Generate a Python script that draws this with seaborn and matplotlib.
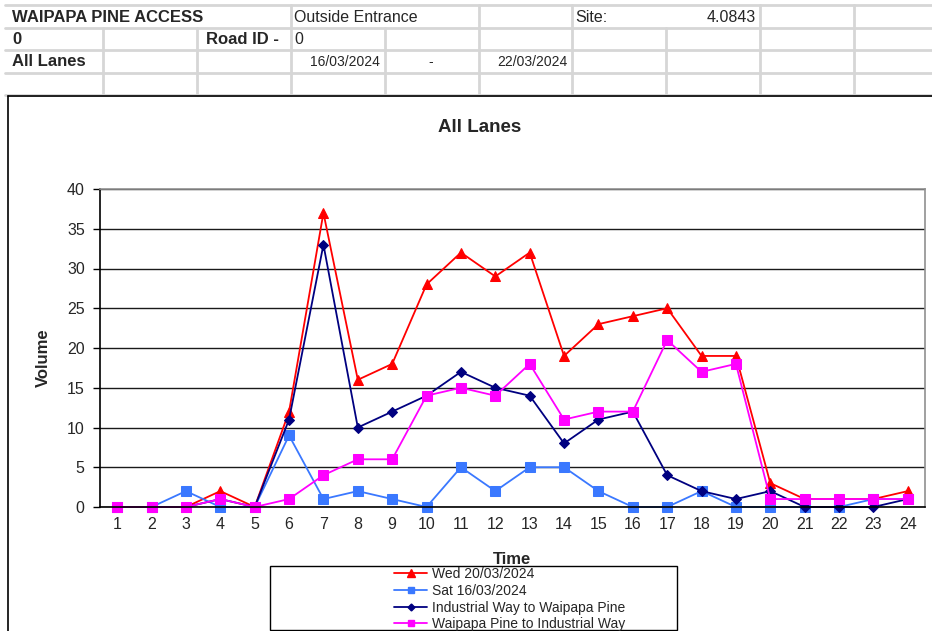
import matplotlib
matplotlib.use("Agg")
import matplotlib.pyplot as plt
from matplotlib.lines import Line2D
from matplotlib.patches import Rectangle
import numpy as np
import pandas as pd
import seaborn as sns

sns.set_style("white")
plt.rcParams["font.family"] = ["Liberation Sans", "DejaVu Sans"]

# Hourly traffic counts
hours = list(range(1, 25))
wed_20 = [0, 0, 0, 2, 0, 12, 37, 16, 18, 28, 32, 29, 32, 19, 23, 24, 25, 19, 19, 3, 1, 1, 1, 2]
sat_16 = [0, 0, 2, 0, 0, 9, 1, 2, 1, 0, 5, 2, 5, 5, 2, 0, 0, 2, 0, 0, 0, 0, 1, 1]
ind_to_wai = [0, 0, 0, 1, 0, 11, 33, 10, 12, 14, 17, 15, 14, 8, 11, 12, 4, 2, 1, 2, 0, 0, 0, 1]
wai_to_ind = [0, 0, 0, 1, 0, 1, 4, 6, 6, 14, 15, 14, 18, 11, 12, 12, 21, 17, 18, 1, 1, 1, 1, 1]

series_names = ["Wed 20/03/2024", "Sat 16/03/2024",
                "Industrial Way to Waipapa Pine", "Waipapa Pine to Industrial Way"]
series_values = [wed_20, sat_16, ind_to_wai, wai_to_ind]
series_colors = ["#FF0000", "#3A78FF", "#000080", "#FF00FF"]
series_markers = ["^", "s", "D", "s"]
series_msizes = [7.5, 7, 5, 7]

yticks = [0, 5, 10, 15, 20, 25, 30, 35, 40]

W, H = 932, 631
fig = plt.figure(figsize=(W / 100, H / 100), dpi=100)


def fx(x):
    return x / W


def fy(y):
    return 1 - y / H


# --- spreadsheet header grid ---
grid_c = "#D6D6D6"
row_lines = [5, 28, 50, 73, 95]
for y in row_lines:
    fig.add_artist(Line2D([fx(5), fx(932)], [fy(y), fy(y)], color=grid_c, lw=2,
                          transform=fig.transFigure))
cols = [103, 197, 291, 385, 479, 572, 666, 760, 854]
row_cols = {
    0: [291, 479, 572, 760, 854],
    1: cols,
    2: cols,
    3: cols,
}
for r, xs in row_cols.items():
    y0, y1 = row_lines[r], row_lines[r + 1]
    for x in xs:
        fig.add_artist(Line2D([fx(x), fx(x)], [fy(y0), fy(y1)], color=grid_c, lw=2,
                              transform=fig.transFigure))


def cell_text(x, y, s, ha="left", bold=False, size=11.5):
    fig.text(fx(x), fy(y), s, ha=ha, va="center", fontsize=size,
             fontweight="bold" if bold else "normal")


cell_text(12, 17, "WAIPAPA PINE ACCESS", bold=True, size=12)
cell_text(294, 17, "Outside Entrance")
cell_text(575, 17, "Site:")
cell_text(756, 17, "4.0843", ha="right")
cell_text(12, 39, "0", bold=True, size=12)
cell_text(279, 39, "Road ID -", ha="right", bold=True, size=12)
cell_text(294, 39, "0")
cell_text(12, 62, "All Lanes", bold=True, size=12)
cell_text(380, 62, "16/03/2024", ha="right", size=10)
cell_text(431, 62, "-", ha="center", size=10)
cell_text(567, 62, "22/03/2024", ha="right", size=10)

# --- chart area border ---
fig.add_artist(Line2D([fx(8), fx(8)], [fy(96), fy(631)], color="black", lw=1.2,
                      transform=fig.transFigure))
fig.add_artist(Line2D([fx(8), fx(932)], [fy(96), fy(96)], color="black", lw=1.2,
                      transform=fig.transFigure))

# --- plot area ---
ax = fig.add_axes([fx(100), fy(507), (925 - 100) / W, (507 - 189) / H])
for name, vals, col, mk, ms in zip(series_names, series_values, series_colors,
                                   series_markers, series_msizes):
    df = pd.DataFrame({"Time": hours, "Volume": vals})
    sns.lineplot(data=df, x="Time", y="Volume", ax=ax, color=col, marker=mk,
                 markersize=ms, markeredgecolor=col, markerfacecolor=col,
                 linewidth=1.3, legend=False, clip_on=False)

ax.set_xlim(0.5, 24.5)
ax.set_ylim(0, 40)
ax.set_yticks(yticks)
ax.set_yticklabels([str(v) for v in yticks], fontsize=11.5)
ax.set_xticks(hours)
ax.set_xticklabels([str(h) for h in hours], fontsize=11.5)
ax.set_xticks(np.arange(0.5, 25, 1), minor=True)
ax.tick_params(axis="x", which="major", length=0, pad=7)
ax.tick_params(axis="x", which="minor", length=5, direction="out", color="black", width=1)
ax.tick_params(axis="y", which="major", length=5, direction="out", color="black",
               width=1, left=True, pad=6)
ax.yaxis.grid(True, color="#1A1A1A", lw=1)
ax.xaxis.grid(False)
ax.set_axisbelow(True)
ax.spines["left"].set_color("black")
ax.spines["bottom"].set_color("black")
ax.spines["top"].set_color("#909090")
ax.spines["right"].set_color("#909090")
for s in ax.spines.values():
    s.set_linewidth(1.2)
ax.set_xlabel("")
ax.set_ylabel("")

fig.text(fx(480), fy(128), "All Lanes", ha="center", va="center", fontsize=13.5,
         fontweight="bold")
fig.text(fx(512), fy(560), "Time", ha="center", va="center", fontsize=12,
         fontweight="bold")
fig.text(fx(43), fy(358), "Volume", ha="center", va="center", fontsize=12,
         fontweight="bold", rotation=90)

# --- legend ---
fig.add_artist(Rectangle((fx(270), fy(630)), (677 - 270) / W, (630 - 566) / H,
                         fill=False, edgecolor="black", lw=1,
                         transform=fig.transFigure))
proxies = [Line2D([], [], color=c, marker=m, markersize=ms * 0.7,
                  markeredgecolor=c, markerfacecolor=c, lw=1.3)
           for c, m, ms in zip(series_colors, series_markers, series_msizes)]
fig.legend(proxies, series_names, loc="upper left", bbox_to_anchor=(fx(394), fy(567)),
           frameon=False, fontsize=10, handlelength=2.4, handletextpad=0.35,
           labelspacing=0.2, borderpad=0, borderaxespad=0)

fig.savefig("out.png", dpi=100)
